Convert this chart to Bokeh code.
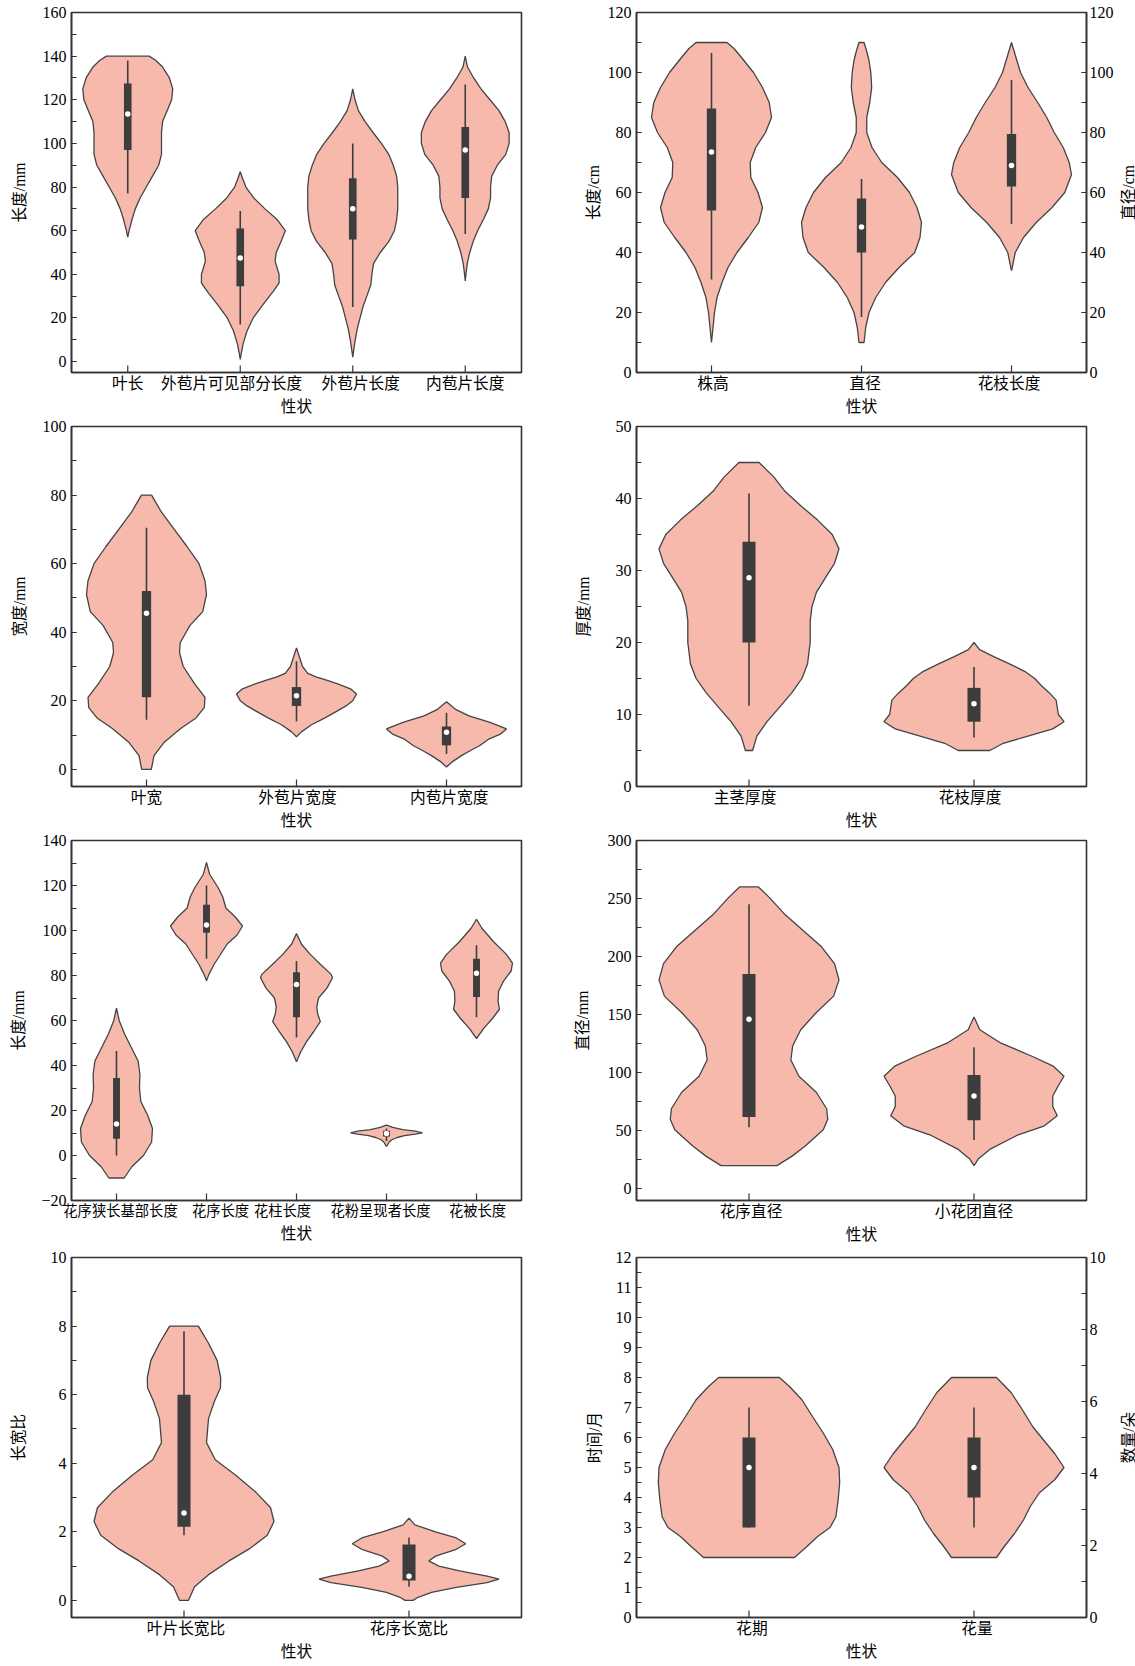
import math
from bokeh.plotting import figure
from bokeh.models import Range1d, LinearAxis, SingleIntervalTicker, FixedTicker
from bokeh.layouts import gridplot
from bokeh.embed import file_html
from bokeh.resources import INLINE

# ---------------- data ----------------
# Panel 1
P1_CATS = ["叶长", "外苞片可见部分长度", "外苞片长度", "内苞片长度"]
P1_V1_Y = [140, 138, 135, 130, 125, 120, 115, 110, 105, 100, 95, 90, 85, 80, 75, 70, 65, 60, 57]
P1_V1_W = [0.19, 0.25, 0.31, 0.37, 0.40, 0.39, 0.35, 0.31, 0.30, 0.30, 0.30, 0.275, 0.22, 0.165, 0.11, 0.067, 0.037, 0.012, 0.0]
P1_V2_Y = [87, 84, 80, 75, 70, 65, 60, 56, 50, 46, 40, 36, 32, 26, 20, 14, 8, 4, 1]
P1_V2_W = [0.0, 0.02, 0.05, 0.12, 0.22, 0.33, 0.40, 0.37, 0.32, 0.31, 0.345, 0.345, 0.29, 0.20, 0.115, 0.06, 0.025, 0.01, 0.0]
P1_V3_Y = [125, 120, 115, 110, 105, 100, 95, 90, 85, 80, 75, 70, 65, 60, 55, 50, 45, 40, 35, 30, 25, 20, 15, 10, 5, 2]
P1_V3_W = [0.0, 0.02, 0.05, 0.11, 0.18, 0.255, 0.32, 0.36, 0.39, 0.40, 0.40, 0.40, 0.39, 0.37, 0.32, 0.245, 0.185, 0.17, 0.16, 0.125, 0.09, 0.065, 0.04, 0.022, 0.008, 0.0]
P1_V4_Y = [140, 135, 130, 125, 120, 115, 110, 105, 100, 95, 90, 85, 80, 75, 70, 65, 60, 55, 50, 45, 40, 37]
P1_V4_W = [0.0, 0.02, 0.075, 0.14, 0.22, 0.30, 0.355, 0.39, 0.39, 0.36, 0.285, 0.235, 0.225, 0.225, 0.205, 0.16, 0.11, 0.07, 0.04, 0.018, 0.006, 0.0]
P1_Q1 = [97, 34.5, 56, 75]
P1_Q3 = [127.5, 61, 84, 107.5]
P1_MED = [113.5, 47.5, 70, 97]
P1_WLO = [77, 17, 25, 58.5]
P1_WHI = [138, 69, 100, 127]

# Panel 2
P2_CATS = ["株高", "直径", "花枝长度"]
P2_V1_Y = [110, 108, 105, 100, 95, 90, 85, 80, 75, 70, 65, 60, 55, 50, 45, 40, 35, 30, 25, 20, 15, 10]
P2_V1_W = [0.103, 0.15, 0.20, 0.28, 0.34, 0.385, 0.40, 0.36, 0.295, 0.258, 0.262, 0.31, 0.34, 0.315, 0.245, 0.17, 0.11, 0.07, 0.037, 0.02, 0.01, 0.0]
P2_V2_Y = [110, 107, 104, 100, 95, 90, 85, 80, 75, 70, 65, 60, 55, 50, 45, 40, 35, 30, 25, 20, 15, 10]
P2_V2_W = [0.017, 0.035, 0.05, 0.062, 0.068, 0.055, 0.035, 0.035, 0.07, 0.135, 0.24, 0.32, 0.37, 0.40, 0.39, 0.355, 0.25, 0.16, 0.095, 0.05, 0.028, 0.017]
P2_V3_Y = [110, 105, 100, 95, 90, 85, 80, 75, 70, 66, 60, 55, 50, 45, 40, 35, 34]
P2_V3_W = [0.0, 0.03, 0.06, 0.11, 0.175, 0.235, 0.285, 0.345, 0.385, 0.40, 0.355, 0.27, 0.165, 0.08, 0.025, 0.005, 0.0]
P2_Q1 = [54, 40, 62]
P2_Q3 = [88, 58, 79.5]
P2_MED = [73.5, 48.5, 69]
P2_WLO = [31, 18.5, 49.5]
P2_WHI = [106.5, 64.5, 97.5]

# Panel 3
P3_CATS = ["叶宽", "外苞片宽度", "内苞片宽度"]
P3_V1_Y = [80, 78, 75, 70, 65, 60, 55, 51, 46, 42, 37, 34, 30, 25, 21, 18, 15, 12, 8, 4, 0]
P3_V1_W = [0.034, 0.06, 0.10, 0.185, 0.27, 0.35, 0.39, 0.40, 0.375, 0.29, 0.225, 0.22, 0.245, 0.32, 0.39, 0.385, 0.33, 0.23, 0.12, 0.05, 0.032]
P3_V2_Y = [35.4, 33, 30, 28, 27, 26, 25, 23.5, 22, 20, 18.5, 17, 15, 13, 11, 9.5]
P3_V2_W = [0.0, 0.018, 0.04, 0.075, 0.13, 0.20, 0.27, 0.36, 0.40, 0.375, 0.33, 0.27, 0.19, 0.10, 0.035, 0.0]
P3_V3_Y = [19.7, 17.5, 15.6, 13.7, 11.8, 10.3, 8.9, 6.9, 5.5, 4, 2.1, 0.7]
P3_V3_W = [0.0, 0.06, 0.15, 0.29, 0.40, 0.36, 0.285, 0.22, 0.16, 0.10, 0.035, 0.0]
P3_Q1 = [21, 18.5, 7]
P3_Q3 = [52, 24, 12.5]
P3_MED = [45.5, 21.5, 10.8]
P3_WLO = [14.5, 14, 4.5]
P3_WHI = [70.5, 31.5, 16.5]

# Panel 4
P4_CATS = ["主茎厚度", "花枝厚度"]
P4_V1_Y = [45, 43, 41, 39, 37, 35, 33, 31, 29, 27, 25, 23, 20, 17, 15, 13, 11, 9, 7, 5]
P4_V1_W = [0.045, 0.11, 0.16, 0.23, 0.305, 0.37, 0.40, 0.38, 0.34, 0.30, 0.28, 0.272, 0.272, 0.26, 0.235, 0.19, 0.135, 0.08, 0.035, 0.016]
P4_V2_Y = [20, 19, 18, 17, 16, 15, 14, 13, 12, 11, 10, 9, 8, 7, 6, 5]
P4_V2_W = [0.0, 0.025, 0.09, 0.16, 0.225, 0.27, 0.30, 0.335, 0.365, 0.37, 0.375, 0.40, 0.35, 0.24, 0.13, 0.07]
P4_Q1 = [20, 9]
P4_Q3 = [34, 13.7]
P4_MED = [29, 11.5]
P4_WLO = [11.2, 6.8]
P4_WHI = [40.7, 16.6]

# Panel 5
P5_CATS = ["花序狭长基部长度", "花序长度", "花柱长度", "花粉呈现者长度", "花被长度"]
P5_V1_Y = [65.5, 60, 54, 48, 42, 36, 30, 24, 18, 12, 6, 0, -5, -10]
P5_V1_W = [0.0, 0.03, 0.09, 0.165, 0.24, 0.26, 0.255, 0.27, 0.345, 0.40, 0.39, 0.30, 0.17, 0.085]
P5_V2_Y = [130.3, 125, 119, 115, 110, 106, 102, 98, 94, 89, 85, 80.5, 77.7]
P5_V2_W = [0.0, 0.035, 0.13, 0.18, 0.215, 0.32, 0.40, 0.34, 0.23, 0.15, 0.085, 0.027, 0.0]
P5_V3_Y = [98.6, 94, 89.5, 85, 80.5, 79, 74.5, 70, 66, 63, 59.5, 55, 50.5, 46, 41.7]
P5_V3_W = [0.0, 0.054, 0.15, 0.265, 0.385, 0.40, 0.34, 0.245, 0.225, 0.235, 0.265, 0.19, 0.11, 0.046, 0.0]
P5_V4_Y = [13.5, 12.5, 11.5, 10.8, 10.1, 9.5, 8.8, 8, 7, 6, 4.5, 4]
P5_V4_W = [0.0, 0.07, 0.18, 0.32, 0.40, 0.32, 0.20, 0.12, 0.06, 0.03, 0.008, 0.0]
P5_V5_Y = [105, 101, 95, 89.5, 85.5, 82, 77.5, 73, 68.5, 65, 61, 56.5, 52]
P5_V5_W = [0.0, 0.06, 0.19, 0.33, 0.40, 0.385, 0.30, 0.245, 0.24, 0.255, 0.18, 0.08, 0.0]
P5_Q1 = [7.5, 99, 61.5, 8.5, 70.5]
P5_Q3 = [34.5, 111.5, 81.5, 11, 87.5]
P5_MED = [14, 102.5, 76, 9.8, 81]
P5_WLO = [0, 87.5, 52.5, 6.5, 61.5]
P5_WHI = [46.5, 120, 86.5, 12, 93.5]

# Panel 6
P6_CATS = ["花序直径", "小花团直径"]
P6_V1_Y = [260, 251, 237, 223, 209, 194, 180, 166, 151, 137, 123, 111, 97, 83, 69, 60, 51, 37, 28, 20]
P6_V1_W = [0.042, 0.09, 0.156, 0.238, 0.32, 0.38, 0.40, 0.376, 0.295, 0.23, 0.194, 0.186, 0.222, 0.30, 0.345, 0.35, 0.33, 0.25, 0.19, 0.124]
P6_V2_Y = [148, 137, 126, 114, 106, 97, 89, 80, 71, 63, 54, 46, 34, 26, 20]
P6_V2_W = [0.0, 0.026, 0.115, 0.26, 0.35, 0.40, 0.375, 0.35, 0.35, 0.37, 0.31, 0.19, 0.07, 0.02, 0.0]
P6_Q1 = [62, 59]
P6_Q3 = [185, 98]
P6_MED = [146, 80]
P6_WLO = [53, 42]
P6_WHI = [245, 122]

# Panel 7
P7_CATS = ["叶片长宽比", "花序长宽比"]
P7_V1_Y = [8, 7.5, 7, 6.5, 6.2, 5.8, 5.3, 4.6, 4.1, 3.65, 3.15, 2.7, 2.3, 1.9, 1.5, 1.15, 0.75, 0.4, 0]
P7_V1_W = [0.064, 0.109, 0.147, 0.163, 0.162, 0.135, 0.109, 0.10, 0.139, 0.23, 0.32, 0.385, 0.40, 0.37, 0.29, 0.20, 0.109, 0.047, 0.02]
P7_V2_Y = [2.4, 2.2, 2.0, 1.82, 1.65, 1.49, 1.29, 1.15, 1.0, 0.86, 0.71, 0.62, 0.52, 0.38, 0.23, 0.09, 0.0]
P7_V2_W = [0.0, 0.026, 0.118, 0.21, 0.252, 0.21, 0.118, 0.088, 0.133, 0.225, 0.347, 0.40, 0.347, 0.21, 0.10, 0.04, 0.018]
P7_Q1 = [2.15, 0.58]
P7_Q3 = [6, 1.63]
P7_MED = [2.55, 0.7]
P7_WLO = [1.9, 0.4]
P7_WHI = [7.85, 1.83]

# Panel 8
P8_CATS = ["花期", "花量"]
P8_V1_Y = [8, 7.7, 7.25, 6.7, 6.15, 5.6, 5.0, 4.5, 3.9, 3.35, 3.0, 2.7, 2.35, 2.0]
P8_V1_W = [0.135, 0.18, 0.236, 0.282, 0.33, 0.372, 0.40, 0.403, 0.396, 0.386, 0.36, 0.305, 0.255, 0.202]
P8_V2_Y = [8, 7.5, 6.9, 6.35, 5.9, 5.45, 5.0, 4.6, 4.15, 3.7, 3.25, 2.8, 2.35, 2.0]
P8_V2_W = [0.10, 0.165, 0.217, 0.262, 0.311, 0.36, 0.40, 0.36, 0.29, 0.25, 0.22, 0.18, 0.133, 0.10]
P8_Q1 = [3, 4]
P8_Q3 = [6, 6]
P8_MED = [5, 5]
P8_WLO = [3, 3]
P8_WHI = [7, 7]

# ---------------- style ----------------
FONT = "'Liberation Serif', 'Noto Sans CJK SC'"
NUMFONT = "Liberation Serif"
VIOLIN = "#F7B9AC"
EDGE = "#444444"
BOX = "#3d3d3d"
AX = "#333333"
FW, FH = 450, 360
NUMSIZE = "16px"


def style_axis(ax, tick_font, tick_size):
    ax.axis_line_color = AX
    ax.axis_line_width = 1.6
    ax.major_tick_line_color = AX
    ax.minor_tick_line_color = AX
    ax.major_tick_line_width = 1.2
    ax.minor_tick_line_width = 1.2
    ax.major_label_text_font = tick_font
    ax.major_label_text_font_size = tick_size
    ax.major_label_text_color = "black"
    ax.axis_label_text_font = FONT
    ax.axis_label_text_font_size = "15.7px"
    ax.axis_label_text_font_style = "normal"
    ax.axis_label_text_color = "black"


def make_panel(cats, profiles, q1, q3, med, wlo, whi, ylo, yhi, step, ylabel,
               ystand, box_w, borders, overrides=None, right=None,
               lbl_dx=None, xsize="15.7px"):
    n = len(cats)
    bl, br, bt, bb = borders
    p = figure(x_range=Range1d(-0.5, n - 0.5), y_range=Range1d(ylo, yhi),
               frame_width=FW, frame_height=FH,
               min_border_left=bl, min_border_right=br,
               min_border_top=bt, min_border_bottom=bb,
               output_backend="svg", toolbar_location=None, tools="")
    p.grid.visible = False
    p.outline_line_color = AX
    p.outline_line_width = 1.6
    p.background_fill_color = "white"
    p.border_fill_color = "white"

    for i, (ys, ws) in enumerate(profiles):
        xs = [i + w for w in ws] + [i - w for w in ws[::-1]]
        yy = list(ys) + list(ys[::-1])
        p.patch(xs, yy, fill_color=VIOLIN, line_color=EDGE, line_width=1.3)

    idx = list(range(n))
    p.segment(x0=idx, y0=wlo, x1=idx, y1=whi, line_color=BOX, line_width=1.6)
    p.vbar(x=idx, width=box_w, bottom=q1, top=q3, fill_color=BOX, line_color=None)
    p.scatter(x=idx, y=med, size=5.5, fill_color="white", line_color=None)

    # x tick marks (inside) at category centres
    tick_len = 7 * (yhi - ylo) / FH
    p.segment(x0=idx, y0=[ylo] * n, x1=idx, y1=[ylo + tick_len] * n,
              line_color=AX, line_width=1.2)

    # x tick labels (positions nudged like the reference to avoid overlap)
    dx = lbl_dx if lbl_dx else [0] * n
    lpos = [i + d * n / FW for i, d in zip(idx, dx)]
    xa = p.xaxis[0]
    xa.ticker = FixedTicker(ticks=lpos)
    xa.major_label_overrides = {lp: c for lp, c in zip(lpos, cats)}
    xa.major_tick_in = 0
    xa.major_tick_out = 0
    xa.minor_tick_in = 0
    xa.minor_tick_out = 0
    xa.major_label_standoff = 2
    xa.axis_label = "性状"
    xa.axis_label_standoff = 3
    style_axis(xa, FONT, xsize)

    ya = p.yaxis[0]
    ya.ticker = SingleIntervalTicker(interval=step, num_minor_ticks=2)
    ya.major_tick_in = 5
    ya.major_tick_out = 0
    ya.minor_tick_in = 5
    ya.minor_tick_out = 0
    ya.major_label_standoff = 5
    ya.axis_label = ylabel
    ya.axis_label_standoff = int(ystand)
    if overrides:
        ya.major_label_overrides = overrides
    style_axis(ya, NUMFONT, NUMSIZE)

    if right is not None:
        rlo, rhi, rstep = right
        p.extra_y_ranges = {"r": Range1d(rlo, rhi)}
        ra = LinearAxis(y_range_name="r",
                        ticker=SingleIntervalTicker(interval=rstep, num_minor_ticks=2))
        ra.major_tick_in = 5
        ra.major_tick_out = 0
        ra.minor_tick_in = 5
        ra.minor_tick_out = 0
        ra.major_label_standoff = 3
        ra.axis_label_standoff = 0
        style_axis(ra, NUMFONT, NUMSIZE)
        p.add_layout(ra, "right")
    return p


def side_label(text, bt, bb):
    # narrow strip that only carries the right-hand axis title (reads bottom-to-top)
    q = figure(x_range=Range1d(0, 1), y_range=Range1d(0, 1),
               frame_width=2, frame_height=FH, min_border_left=4, min_border_right=0,
               min_border_top=bt, min_border_bottom=bb,
               output_backend="svg", toolbar_location=None, tools="")
    q.outline_line_color = None
    q.grid.visible = False
    q.xaxis.visible = False
    q.background_fill_color = "white"
    q.border_fill_color = "white"
    q.scatter(x=[0.5], y=[0.5], size=1, alpha=0)
    ya = q.yaxis[0]
    ya.ticker = FixedTicker(ticks=[0.5])
    ya.major_label_overrides = {0.5: ""}
    ya.major_label_text_font_size = "1px"
    ya.axis_line_color = None
    ya.major_tick_line_color = None
    ya.minor_tick_line_color = None
    ya.major_tick_in = 0
    ya.major_tick_out = 0
    ya.minor_tick_in = 0
    ya.minor_tick_out = 0
    ya.major_label_standoff = 0
    ya.axis_label = text
    ya.axis_label_standoff = 0
    ya.axis_label_text_font = FONT
    ya.axis_label_text_font_size = "15.7px"
    ya.axis_label_text_font_style = "normal"
    ya.axis_label_text_color = "black"
    return q


LB = (71, 45)   # left column borders (left, right)
RB = (70, 27)   # right column borders

p1 = make_panel(P1_CATS, [(P1_V1_Y, P1_V1_W), (P1_V2_Y, P1_V2_W), (P1_V3_Y, P1_V3_W), (P1_V4_Y, P1_V4_W)],
                P1_Q1, P1_Q3, P1_MED, P1_WLO, P1_WHI, -5, 160, 20, "长度/mm", 12, 0.068,
                (LB[0], LB[1], 12, 44), lbl_dx=[0, -8.6, 8, 0])
p2 = make_panel(P2_CATS, [(P2_V1_Y, P2_V1_W), (P2_V2_Y, P2_V2_W), (P2_V3_Y, P2_V3_W)],
                P2_Q1, P2_Q3, P2_MED, P2_WLO, P2_WHI, 0, 120, 20, "长度/cm", 3, 0.062,
                (RB[0], RB[1], 12, 44), right=(0, 120, 20), lbl_dx=[1.5, 3.7, -2.5])
p3 = make_panel(P3_CATS, [(P3_V1_Y, P3_V1_W), (P3_V2_Y, P3_V2_W), (P3_V3_Y, P3_V3_W)],
                P3_Q1, P3_Q3, P3_MED, P3_WLO, P3_WHI, -5, 100, 20, "宽度/mm", 12, 0.062,
                (LB[0], LB[1], 9, 44), lbl_dx=[0, 1, 2.7])
p4 = make_panel(P4_CATS, [(P4_V1_Y, P4_V1_W), (P4_V2_Y, P4_V2_W)],
                P4_Q1, P4_Q3, P4_MED, P4_WLO, P4_WHI, 0, 50, 10, "厚度/mm", 21, 0.058,
                (RB[0], RB[1], 9, 44), lbl_dx=[-4, -4])
p5 = make_panel(P5_CATS, [(P5_V1_Y, P5_V1_W), (P5_V2_Y, P5_V2_W), (P5_V3_Y, P5_V3_W),
                          (P5_V4_Y, P5_V4_W), (P5_V5_Y, P5_V5_W)],
                P5_Q1, P5_Q3, P5_MED, P5_WLO, P5_WHI, -20, 140, 20, "长度/mm", 11, 0.077,
                (LB[0], LB[1], 9, 44), overrides={-20: "\u221220"},
                lbl_dx=[4, 14, -14, -6, 1], xsize="14.3px")
p6 = make_panel(P6_CATS, [(P6_V1_Y, P6_V1_W), (P6_V2_Y, P6_V2_W)],
                P6_Q1, P6_Q3, P6_MED, P6_WLO, P6_WHI, -10, 300, 50, "直径/mm", 14, 0.058,
                (RB[0], RB[1], 9, 44), lbl_dx=[2, 0])
p7 = make_panel(P7_CATS, [(P7_V1_Y, P7_V1_W), (P7_V2_Y, P7_V2_W)],
                P7_Q1, P7_Q3, P7_MED, P7_WLO, P7_WHI, -0.5, 10, 2, "长宽比", 21, 0.058,
                (LB[0], LB[1], 12, 44), lbl_dx=[2, 0])
p8 = make_panel(P8_CATS, [(P8_V1_Y, P8_V1_W), (P8_V2_Y, P8_V2_W)],
                P8_Q1, P8_Q3, P8_MED, P8_WLO, P8_WHI, 0, 12, 1, "时间/月", 10, 0.058,
                (RB[0], RB[1], 12, 44), right=(0, 10, 2), lbl_dx=[3, 3])

q2 = side_label("直径/cm", 12, 44)
q8 = side_label("数量/朵", 12, 44)

grid = gridplot([[p1, p2, q2], [p3, p4, None], [p5, p6, None], [p7, p8, q8]],
                toolbar_location=None)

open("out.html", "w").write(file_html(grid, INLINE))
